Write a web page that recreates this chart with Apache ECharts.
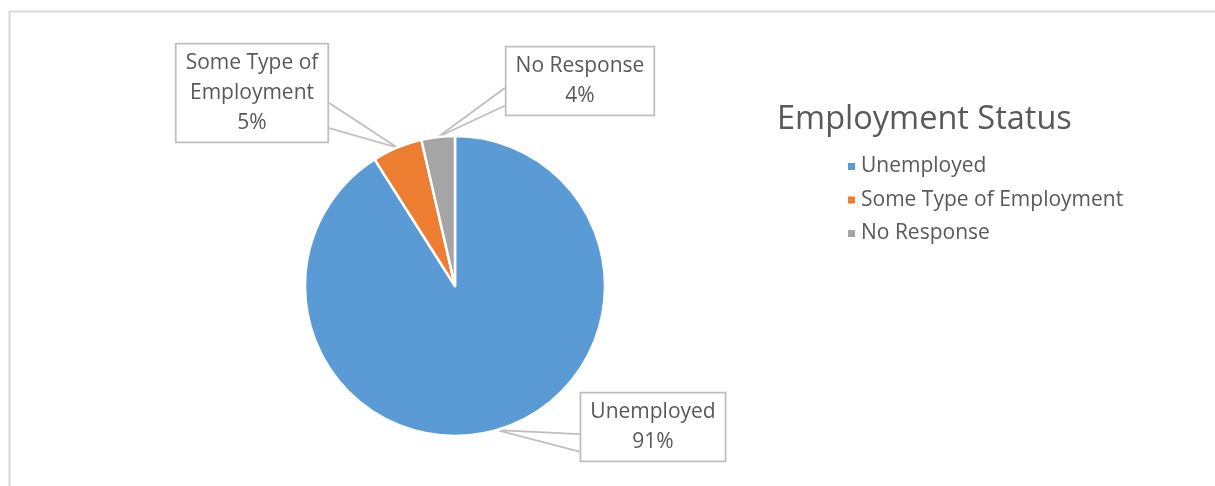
<!DOCTYPE html>
<html>
<head>
<meta charset="utf-8">
<script src="https://cdn.jsdelivr.net/npm/echarts@6/dist/echarts.min.js"></script>
<style>
  html, body { margin: 0; padding: 0; background: #fff; }
  #chart { width: 1215px; height: 486px; }
</style>
</head>
<body>
<div id="chart"></div>
<script>
// ---- data ----
const chartTitle = 'Employment Status';
const categories = ['Unemployed', 'Some Type of Employment', 'No Response'];
const values = [91, 5.4, 3.6];
const labelNames = ['Unemployed', 'Some Type of\nEmployment', 'No Response'];
const colors = ['#5B9BD5', '#ED7D31', '#A5A5A5'];

// ---- layout (label box centres) ----
const labelCentres = [[653, 427], [252, 93], [580, 81]];

const FONT = '"Open Sans", "Noto Sans", sans-serif';
const TEXT = '#595959';
const BOX = '#BFBFBF';

const chart = echarts.init(document.getElementById('chart'));

const option = {
  animation: false,
  backgroundColor: '#ffffff',
  color: colors,
  title: {
    text: chartTitle,
    left: 777,
    top: 103,
    padding: 0,
    textStyle: { fontFamily: FONT, fontSize: 32.5, fontWeight: 'normal', color: TEXT }
  },
  legend: {
    orient: 'vertical',
    left: 846,
    top: 156,
    padding: 0,
    itemWidth: 9,
    itemHeight: 9,
    itemGap: 12.5,
    icon: 'rect',
    selectedMode: false,
    data: categories,
    textStyle: { fontFamily: FONT, fontSize: 21, color: TEXT }
  },
  graphic: [{
    type: 'rect',
    left: 7,
    top: 9,
    shape: { width: 1240, height: 600 },
    style: { fill: 'none', stroke: '#D9D9D9', lineWidth: 2 },
    silent: true,
    z: -10
  }],
  series: [{
    type: 'pie',
    center: [455, 286],
    radius: [0, 150],
    startAngle: 90,
    clockwise: true,
    percentPrecision: 0,
    avoidLabelOverlap: false,
    itemStyle: { borderColor: '#ffffff', borderWidth: 2.5 },
    label: {
      show: true,
      position: 'outside',
      formatter: p => labelNames[p.dataIndex] + '\n' + p.percent + '%',
      fontFamily: FONT,
      fontSize: 21,
      lineHeight: 30,
      color: TEXT,
      align: 'center',
      backgroundColor: '#ffffff',
      borderColor: BOX,
      borderWidth: 1.8,
      padding: [4, 9, 3, 9]
    },
    labelLine: {
      show: true,
      length: 10,
      length2: 10,
      smooth: false,
      lineStyle: { color: BOX, width: 1.8 }
    },
    labelLayout: function (params) {
      const c = labelCentres[params.dataIndex];
      const w = params.labelRect.width;
      const h = params.labelRect.height;
      const tip = params.labelLinePoints ? params.labelLinePoints[0] : [c[0], c[1]];
      const left = c[0] - w / 2, right = c[0] + w / 2, top = c[1] - h / 2;
      const sideX = tip[0] > right ? right : left;
      const y1 = top + 0.6 * h, y2 = top + 0.85 * h;
      return {
        x: c[0],
        y: c[1],
        align: 'center',
        verticalAlign: 'middle',
        labelLinePoints: [[sideX, y1], [tip[0], tip[1]], [sideX, y2]]
      };
    },
    data: categories.map((n, i) => ({ name: n, value: values[i] }))
  }]
};

chart.setOption(option);
</script>
</body>
</html>
